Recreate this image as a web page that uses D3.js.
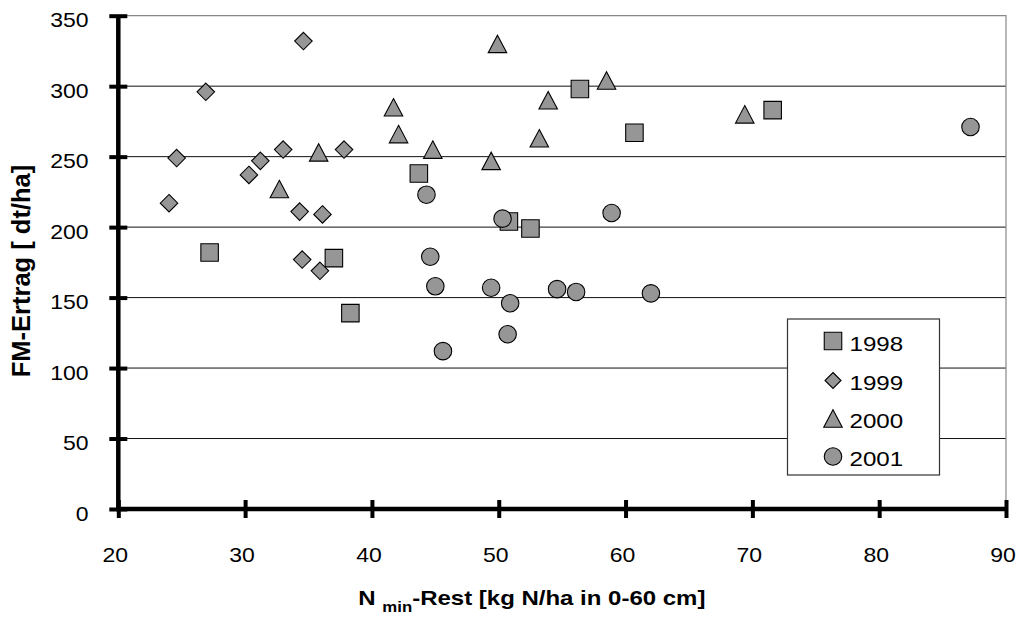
<!DOCTYPE html>
<html>
<head>
<meta charset="utf-8">
<script src="https://cdn.jsdelivr.net/npm/d3@7"></script>
<style>
  html, body { margin: 0; padding: 0; background: #fff; }
  svg { display: block; font-family: "Liberation Sans", Arial, sans-serif; }
</style>
</head>
<body>
<svg id="chart" width="1019" height="617"></svg>
<script>
// Residual mineral N (kg N/ha, 0-60 cm) vs. fresh-matter yield (dt/ha), per year
const years = ["1998", "1999", "2000", "2001"];
const shapes = ["square", "diamond", "triangle", "circle"];

const nmin1998 = [27.2, 37.0, 38.3, 43.7, 50.8, 52.5, 56.4, 60.7, 71.6];
const yield1998 = [182, 178, 139, 238, 204, 199, 298, 267, 283];

const nmin1999 = [24.0, 24.6, 26.9, 30.3, 31.2, 33.0, 34.3, 34.5, 34.6, 35.9, 36.1, 37.8];
const yield1999 = [217, 249, 296, 237, 247, 255, 211, 177, 332, 169, 209, 255];

const nmin2000 = [32.7, 35.8, 41.7, 42.1, 44.8, 49.4, 49.9, 53.2, 53.9, 58.5, 69.4];
const yield2000 = [227, 253, 285, 266, 255, 247, 330, 263, 290, 304, 280];

const nmin2001 = [44.3, 44.6, 45.0, 45.6, 49.4, 50.3, 50.7, 50.9, 54.6, 56.1, 58.9, 62.0, 87.2];
const yield2001 = [223, 179, 158, 112, 157, 206, 124, 146, 156, 154, 210, 153, 271];

const xTicks = [20, 30, 40, 50, 60, 70, 80, 90];
const yTicks = [0, 50, 100, 150, 200, 250, 300, 350];

const seriesX = [nmin1998, nmin1999, nmin2000, nmin2001];
const seriesY = [yield1998, yield1999, yield2000, yield2001];

const svg = d3.select("#chart");
const plotLeft = 118.3, plotRight = 1006, plotTop = 15.7, plotBottom = 509;
const textStretch = 1.15;

const x = d3.scaleLinear().domain([20, 90]).range([plotLeft, plotRight]);
const y = d3.scaleLinear().domain([0, 350]).range([plotBottom, plotTop]);

// Horizontal gridlines
svg.append("g").selectAll("line")
  .data(yTicks.filter(v => v > 0 && v < 350))
  .join("line")
  .attr("x1", plotLeft).attr("x2", plotRight)
  .attr("y1", d => y(d)).attr("y2", d => y(d))
  .attr("stroke", "#111").attr("stroke-width", 1);

// Plot-area border (top and right)
svg.append("path")
  .attr("d", `M${plotLeft},${y(350)}H${x(90)}V${y(0)}`)
  .attr("fill", "none").attr("stroke", "#888").attr("stroke-width", 1.2);

// Axes with ticks crossing the axis line
const yAxis = svg.append("g").attr("transform", `translate(${plotLeft},0)`)
  .call(d3.axisLeft(y).tickValues(yTicks).tickSize(9).tickFormat(""));
const xAxis = svg.append("g").attr("transform", `translate(0,${plotBottom})`)
  .call(d3.axisBottom(x).tickValues(xTicks).tickSize(9).tickFormat(""));

yAxis.select(".domain").attr("stroke", "#000").attr("stroke-width", 4.5)
  .attr("d", `M0,${y(350)}V${y(0) + 2}`);
yAxis.selectAll(".tick line").attr("x1", -9).attr("x2", 9)
  .attr("stroke", "#000").attr("stroke-width", 4);
xAxis.select(".domain").attr("stroke", "#000").attr("stroke-width", 4.5)
  .attr("d", `M${x(20) - 2},0H${x(90) + 2}`);
xAxis.selectAll(".tick line").attr("y1", -9).attr("y2", 9)
  .attr("stroke", "#000").attr("stroke-width", 4);

// Tick labels
svg.append("g").selectAll("text")
  .data(yTicks).join("text")
  .attr("transform", d => `translate(88.5,${y(d) + 11.5}) scale(${textStretch},1)`)
  .attr("text-anchor", "end")
  .attr("font-size", 20)
  .attr("fill", "#000")
  .text(d => d);

svg.append("g").selectAll("text")
  .data(xTicks).join("text")
  .attr("transform", d => `translate(${x(d) - 3},561.5) scale(${textStretch},1)`)
  .attr("text-anchor", "middle")
  .attr("font-size", 20)
  .attr("fill", "#000")
  .text(d => d);

// Axis titles
const xTitle = svg.append("text")
  .attr("transform", `translate(358.3,604.5) scale(1.2,1)`)
  .attr("font-size", 20).attr("font-weight", "bold").attr("fill", "#000");
xTitle.append("tspan").text("N ");
xTitle.append("tspan").attr("font-size", 14).attr("dy", 7).text("min");
xTitle.append("tspan").attr("dy", -7).text("-Rest [kg N/ha in 0-60 cm]");

svg.append("text")
  .attr("transform", `translate(29.5,271) rotate(-90)`)
  .attr("text-anchor", "middle")
  .attr("font-size", 25.5).attr("font-weight", "bold").attr("fill", "#000")
  .text("FM-Ertrag [ dt/ha]");

// Marker outlines centred on (0,0)
function markerPath(shape, s) {
  const h = s / 2;
  if (shape === "square") return `M${-h},${-h}H${h}V${h}H${-h}Z`;
  if (shape === "diamond") return `M0,${-h}L${h},0L0,${h}L${-h},0Z`;
  if (shape === "triangle") return `M0,${-h}L${h + 0.5},${h}L${-h - 0.5},${h}Z`;
  const p = d3.path(); p.arc(0, 0, h, 0, 2 * Math.PI); return p.toString();
}
const markerFill = "#969696";

// Data points
seriesX.forEach((xs, i) => {
  svg.append("g").selectAll("path")
    .data(xs.map((v, j) => [v, seriesY[i][j]]))
    .join("path")
    .attr("transform", d => `translate(${x(d[0])},${y(d[1])})`)
    .attr("d", markerPath(shapes[i], 17.5))
    .attr("fill", markerFill).attr("stroke", "#000").attr("stroke-width", 1.1);
});

// Legend
const legend = svg.append("g");
legend.append("rect")
  .attr("x", 787.5).attr("y", 319).attr("width", 152).attr("height", 156)
  .attr("fill", "#fff").attr("stroke", "#333").attr("stroke-width", 1.2);
const rowY = [341, 380.5, 418.5, 456.5];
years.forEach((yr, i) => {
  legend.append("path")
    .attr("transform", `translate(833,${rowY[i]})`)
    .attr("d", markerPath(shapes[i], i === 1 ? 16 : 17.5))
    .attr("fill", markerFill).attr("stroke", "#000").attr("stroke-width", 1.1);
  legend.append("text")
    .attr("transform", `translate(849.5,${rowY[i] + 9.7}) scale(${textStretch},1)`)
    .attr("font-size", 21).attr("fill", "#000")
    .text(yr);
});
</script>
</body>
</html>
